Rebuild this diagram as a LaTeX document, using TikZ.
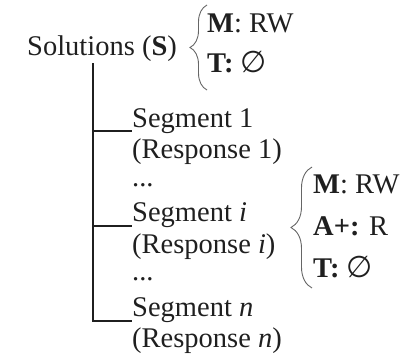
\documentclass[tikz,border=0pt]{standalone}
\usepackage{fontspec}
\setmainfont{Liberation Serif}
\newfontfamily\symfont{DejaVu Sans}
\usetikzlibrary{decorations.pathreplacing}

\newcommand{\emptyglyph}{{\symfont\fontsize{30}{30}\selectfont ∅}}

\begin{document}
\begin{tikzpicture}[x=1pt,y=-1pt,
  lbl/.style={anchor=base west, inner sep=0pt,
    font=\fontsize{28.5}{30}\selectfont, text=black!88},
  tree/.style={line width=2pt, draw=black!88},
  curly/.style={decorate, decoration={brace, amplitude=#1},
    line width=0.9pt, draw=black!60},
  curly/.default=17pt]
\useasboundingbox (0,0) rectangle (411,354);

% root and its attributes
\node[lbl] (sol) at (27,55) {Solutions (\textbf{S})};
\node[lbl] (m1) at (207,32) {\textbf{M}: RW};
\node[lbl] (t1) at (207,72) {\textbf{T:} \emptyglyph};

% segment list
\node[lbl] (seg1)  at (132,127)   {Segment 1};
\node[lbl] (res1)  at (132,158.5) {(Response 1)};
\node[lbl] (dot1)  at (132,186)   {...};
\node[lbl] (segi)  at (132,221.5) {Segment \textit{i}};
\node[lbl] (resi)  at (132,253)   {(Response \textit{i})};
\node[lbl] (dot2)  at (132,280)   {...};
\node[lbl] (segn)  at (132,316)   {Segment \textit{n}};
\node[lbl] (resn)  at (132,347.5) {(Response \textit{n})};

% attributes of segment i
\node[lbl] (m2) at (313,193) {\textbf{M}: RW};
\node[lbl] (a2) at (313,235) {\textbf{A+:} R};
\node[lbl] (t2) at (313,277) {\textbf{T:} \emptyglyph};

% tree connectors
\coordinate (trunk) at (93,63);
\coordinate (b1) at ([yshift=-4pt]seg1.base west);
\coordinate (b2) at ([yshift=-4pt]segi.base west);
\coordinate (b3) at ([yshift=-5pt]segn.base west);
\draw[tree] (trunk) |- (b3);
\draw[tree] (trunk |- b1) -- (b1);
\draw[tree] (trunk |- b2) -- (b2);

% braces
\coordinate (br1a) at (207,90);
\coordinate (br1b) at (207,5);
\coordinate (br2a) at (312,288);
\coordinate (br2b) at (312,167);
\draw[curly] (br1a) -- (br1b);
\draw[curly=21pt] (br2a) -- (br2b);
\end{tikzpicture}
\end{document}
